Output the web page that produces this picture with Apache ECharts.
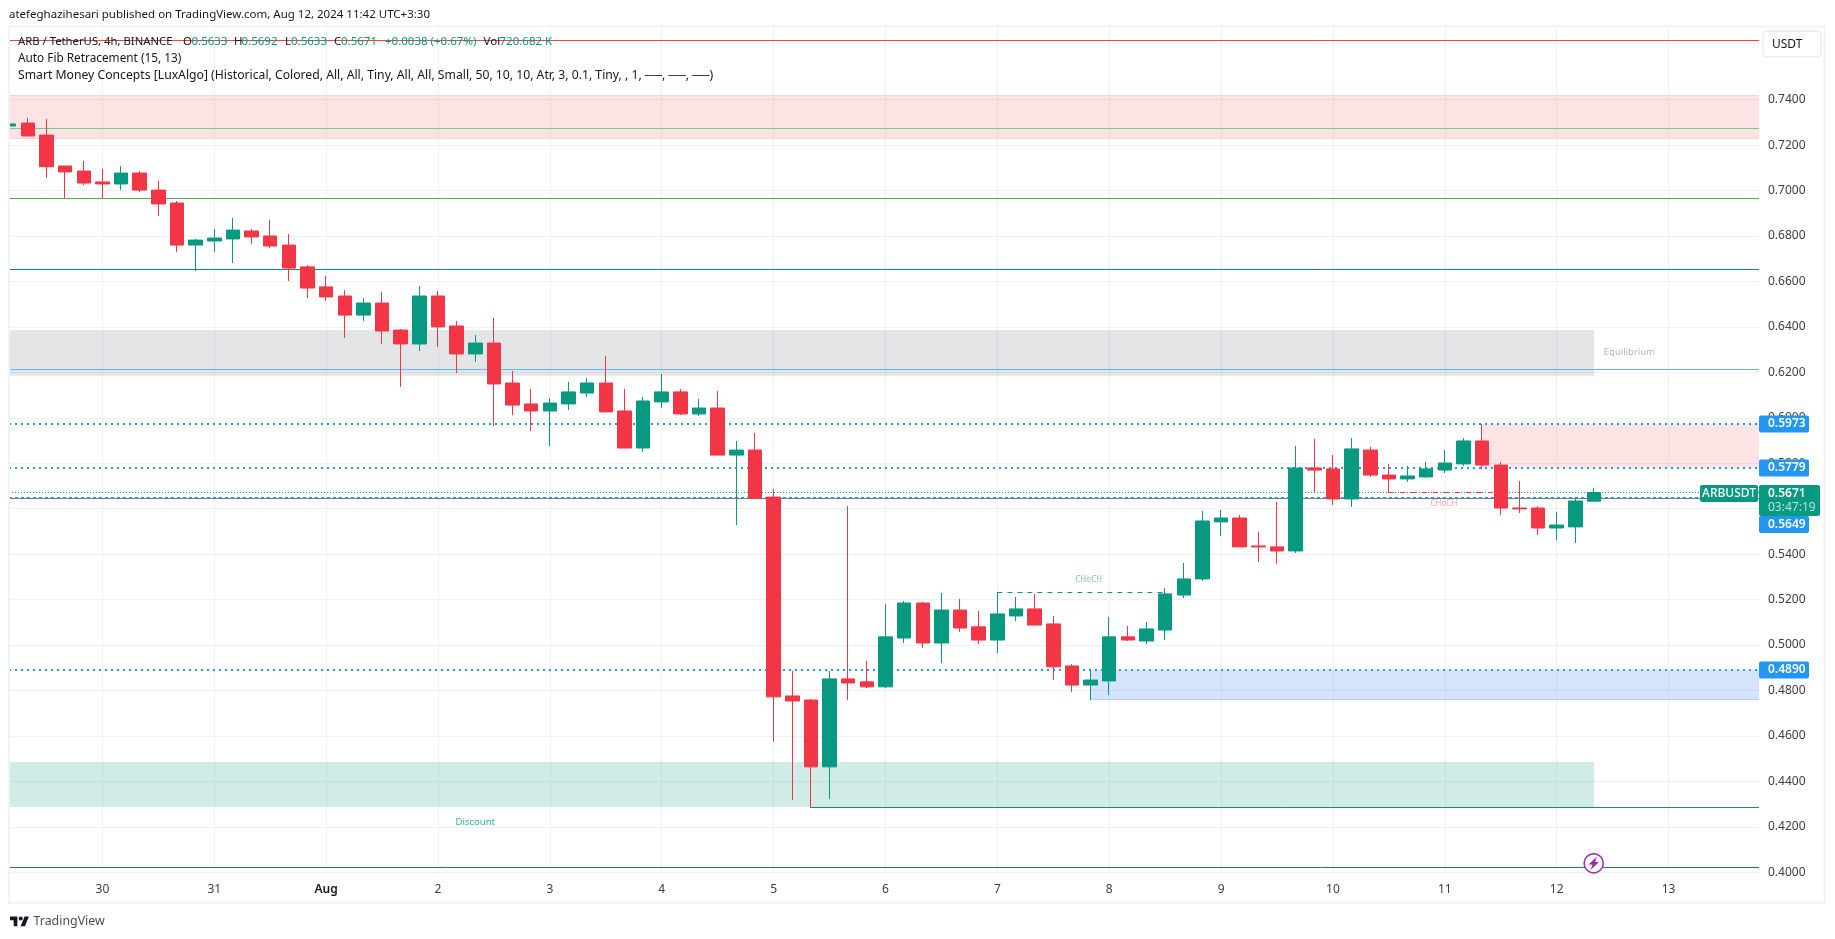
<!DOCTYPE html>
<html><head><meta charset="utf-8">
<style>html,body{margin:0;padding:0;background:#fff;overflow:hidden}#c{width:1835px;height:939px}</style>
<script src="https://cdn.jsdelivr.net/npm/echarts@6/dist/echarts.min.js"></script>
</head><body><div id="c"></div>
<script>
// Each candle: [open, close, low, high], one per 4h bar
const candles = [
[0.7284,0.7293,0.7284,0.7293],[0.7297,0.7240,0.7240,0.7319],[0.7244,0.7105,0.7056,0.7315],[0.7108,0.7082,0.6967,0.7108],
[0.7086,0.7033,0.7024,0.7130],[0.7038,0.7029,0.6963,0.7095],[0.7029,0.7077,0.7002,0.7108],[0.7077,0.7002,0.6994,0.7086],
[0.7002,0.6941,0.6888,0.7042],[0.6945,0.6760,0.6730,0.6954],[0.6760,0.6782,0.6646,0.6787],[0.6778,0.6791,0.6730,0.6831],
[0.6787,0.6826,0.6681,0.6879],[0.6822,0.6796,0.6765,0.6831],[0.6800,0.6756,0.6747,0.6870],[0.6760,0.6659,0.6602,0.6809],
[0.6664,0.6571,0.6527,0.6672],[0.6576,0.6532,0.6514,0.6624],[0.6536,0.6452,0.6351,0.6562],[0.6452,0.6505,0.6426,0.6527],
[0.6505,0.6382,0.6325,0.6554],[0.6386,0.6325,0.6136,0.6391],[0.6325,0.6536,0.6294,0.6580],[0.6536,0.6400,0.6312,0.6558],
[0.6404,0.6281,0.6197,0.6426],[0.6281,0.6329,0.6246,0.6364],[0.6329,0.6149,0.5964,0.6439],[0.6153,0.6056,0.6012,0.6206],
[0.6061,0.6030,0.5942,0.6127],[0.6030,0.6065,0.5876,0.6087],[0.6061,0.6114,0.6034,0.6158],[0.6109,0.6153,0.6092,0.6175],
[0.6153,0.6026,0.6026,0.6272],[0.6030,0.5867,0.5867,0.6127],[0.5867,0.6074,0.5850,0.6092],[0.6070,0.6114,0.6043,0.6193],
[0.6114,0.6017,0.6012,0.6127],[0.6017,0.6043,0.6008,0.6083],[0.6043,0.5836,0.5836,0.6118],[0.5836,0.5858,0.5528,0.5898],
[0.5858,0.5647,0.5643,0.5933],[0.5651,0.4772,0.4574,0.5687],[0.4776,0.4754,0.4318,0.4886],[0.4758,0.4464,0.4283,0.4763],
[0.4464,0.4851,0.4323,0.4886],[0.4851,0.4833,0.4758,0.5612],[0.4838,0.4816,0.4811,0.4930],[0.4816,0.5036,0.4811,0.5181],
[0.5031,0.5185,0.5009,0.5194],[0.5185,0.5009,0.4987,0.5190],[0.5009,0.5154,0.4921,0.5229],[0.5154,0.5075,0.5058,0.5203],
[0.5080,0.5022,0.5005,0.5150],[0.5022,0.5137,0.4965,0.5234],[0.5128,0.5159,0.5106,0.5212],[0.5159,0.5088,0.5088,0.5225],
[0.5093,0.4904,0.4846,0.5128],[0.4908,0.4824,0.4794,0.4917],[0.4824,0.4846,0.4758,0.4895],[0.4842,0.5036,0.4780,0.5124],
[0.5036,0.5022,0.5018,0.5084],[0.5018,0.5071,0.5005,0.5102],[0.5066,0.5225,0.5022,0.5251],[0.5220,0.5291,0.5207,0.5361],
[0.5291,0.5546,0.5282,0.5590],[0.5542,0.5559,0.5480,0.5594],[0.5559,0.5432,0.5432,0.5572],[0.5436,0.5432,0.5366,0.5498],
[0.5432,0.5414,0.5357,0.5630],[0.5414,0.5779,0.5405,0.5876],[0.5779,0.5770,0.5674,0.5907],[0.5775,0.5643,0.5616,0.5836],
[0.5643,0.5863,0.5608,0.5911],[0.5858,0.5748,0.5740,0.5872],[0.5748,0.5731,0.5669,0.5797],[0.5731,0.5744,0.5718,0.5788],
[0.5740,0.5775,0.5735,0.5806],[0.5770,0.5801,0.5757,0.5858],[0.5797,0.5898,0.5788,0.5911],[0.5898,0.5792,0.5775,0.5973],
[0.5792,0.5603,0.5572,0.5806],[0.5603,0.5599,0.5581,0.5722],[0.5603,0.5515,0.5484,0.5612],[0.5515,0.5528,0.5462,0.5586],
[0.5520,0.5634,0.5449,0.5647],[0.5633,0.5671,0.5633,0.5692]
];
const dayTicks = [5,11,17,23,29,35,41,47,53,59,65,71,77,83,89];
const dayLabels = ['30','31','Aug','2','3','4','5','6','7','8','9','10','11','12','13'];
const priceTicks = [0.40,0.42,0.44,0.46,0.48,0.50,0.52,0.54,0.56,0.58,0.60,0.62,0.64,0.66,0.68,0.70,0.72,0.74];
const lastBar = 85, xLeft = -0.0094, xRight = 93.85, yLow = 0.39881, yHigh = 0.77197;

// zones: [fromBar, toBar, lowPrice, highPrice, fill]
const zones = [
 [xLeft,xRight,0.72298,0.74203,'rgba(232,47,47,0.13)'],
 [xLeft,lastBar,0.61852,0.63863,'rgba(120,123,134,0.2)'],
 [xLeft,lastBar,0.42875,0.44855,'rgba(8,153,129,0.19)'],
 [58,xRight,0.47614,0.4890,'rgba(45,115,245,0.2)'],
 [79,xRight,0.57778,0.5973,'rgba(232,47,47,0.13)']
];
// levels: [fromBar, toBar, price, colour, width, dash]
const levels = [
 [xLeft,xRight,0.7661,'#F44336',1,null],
 [xLeft,xRight,0.74203,'#F9D2D2',1,null],
 [xLeft,xRight,0.72298,'#F9D2D2',1,null],
 [xLeft,xRight,0.7274,'#7CC98A',1,null],
 [xLeft,xRight,0.6966,'#4CAF50',1,null],
 [xLeft,xRight,0.6653,'#158C7A',1,null],
 [xLeft,xRight,0.6213,'#64B5F6',1,null],
 [xLeft,xRight,0.5646,'#787B86',1,null],
 [xLeft,xRight,0.5973,'#2196F3',2,[2,4]],
 [xLeft,xRight,0.5779,'#2196F3',2,[2,4]],
 [xLeft,xRight,0.5649,'#2196F3',1,[3,3]],
 [xLeft,xRight,0.4890,'#2196F3',2,[2,4]],
 [xLeft,xRight,0.5671,'#089981',1,[1,2]],
 [58,xRight,0.47614,'#B5CBF8',1,null],
 [43,xRight,0.4286,'#158C7A',1,null],
 [xLeft,xRight,0.4024,'#2F5BE7',1,null],
 [53,62,0.5232,'#089981',1,[5,5]],
 [74,80,0.5672,'#F23645',1,[5,6]]
];
// notes: [bar, price, text, colour, size]
const notes = [
 [25,0.42185,'Discount','#089981',9.5],
 [86.9,0.62895,'Equilibrium','#A0A3AD',9.5],
 [57.9,0.5289,'CHoCH','rgba(8,153,129,0.7)',8],
 [76.95,0.5624,'CHoCH','rgba(242,54,69,0.6)',8]
];
const priceTags = [['0.5973',0.5973,0],['0.5779',0.5779,0],['0.4890',0.4890,0],['0.5649',0.5649,27]];

const FONT = 'Noto Sans';
const chart = echarts.init(document.getElementById('c'), null, {renderer:'canvas'});
chart.setOption({
 animation:false, backgroundColor:'#fff',
 grid:{left:9,top:27,width:1750,height:848},
 xAxis:{type:'value',min:xLeft,max:xRight,
  axisLine:{show:false},
  axisTick:{show:false,customValues:dayTicks},
  splitLine:{show:true,lineStyle:{color:'#F0F1F4',width:1}},
  axisLabel:{customValues:dayTicks,margin:9,hideOverlap:false,fontFamily:FONT,fontSize:12,color:'#3A3E4A',
   formatter:v=>{const s=dayLabels[dayTicks.indexOf(v)];return s==='Aug'?'{b|Aug}':s;},
   rich:{b:{fontFamily:FONT,fontSize:12,fontWeight:600,color:'#131722'}}}},
 yAxis:{type:'value',position:'right',min:yLow,max:yHigh,scale:true,
  axisLine:{show:false},
  axisTick:{show:false,customValues:priceTicks},
  splitLine:{show:true,lineStyle:{color:'#F0F1F4',width:1}},
  axisLabel:{customValues:priceTicks,margin:9,fontFamily:FONT,fontSize:12,color:'#3A3E4A',formatter:v=>v.toFixed(4)}},
 series:[
  {type:'line',name:'overlays',data:[],z:1,silent:true,symbol:'none',
   markArea:{silent:true,z:1,itemStyle:{borderWidth:0},
    data:zones.map(z=>[{coord:[z[0],z[3]],itemStyle:{color:z[4]}},{coord:[z[1],z[2]]}])},
   markLine:{silent:true,z:2,symbol:'none',label:{show:false},animation:false,
    data:levels.map(l=>[{coord:[l[0],l[2]],lineStyle:{color:l[3],width:l[4],type:l[5]||'solid',cap:'butt',opacity:1}},{coord:[l[1],l[2]]}])}},
  {type:'candlestick',name:'ARBUSDT',z:3,barWidth:14,clip:true,
   itemStyle:{color:'#089981',color0:'#F23645',borderColor:'#089981',borderColor0:'#F23645',borderWidth:1},
   data:candles.map((c,i)=>[i,c[0],c[1],c[2],c[3]])},
  {type:'scatter',name:'notes',z:4,symbolSize:1,silent:true,itemStyle:{color:'rgba(0,0,0,0)'},
   data:notes.map(n=>({value:[n[0],n[1]],label:{show:true,position:'inside',formatter:n[2],color:n[3],fontSize:n[4],fontFamily:FONT}}))}
 ]
});

function txt(x,y,s,o){return {type:'text',z:60,silent:true,style:Object.assign({x:x,y:y,text:s,fontFamily:FONT,fontSize:12,fill:'#131722',textVerticalAlign:'middle'},o||{})};}
function box(x,y,w,h,fill,r,stroke){return {type:'rect',z:55,silent:true,shape:{x:x,y:y,width:w,height:h,r:r||0},style:{fill:fill,stroke:stroke||null,lineWidth:stroke?1:0}};}
function poly(pts,fill,z){return {type:'polygon',z:z||60,silent:true,shape:{points:pts},style:{fill:fill}};}
const UP='#089981';
const g=[
 box(0,0,1835,26,'#fff'),box(0,0,9,939,'#fff'),
 box(1760,877,64,25,'#fff'),
 {type:'rect',z:56,silent:true,shape:{x:9,y:26.5,width:1815.5,height:876.5},style:{fill:null,stroke:'#F0F3FA',lineWidth:2}},
 txt(9,15,'atefeghazihesari published on TradingView.com, Aug 12, 2024 11:42 UTC+3:30',{fontSize:11.5}),
 txt(18,42,'ARB / TetherUS, 4h, BINANCE',{fontSize:11.3}),
 txt(183,42,'O',{fontSize:11.5}),txt(191.5,42,'0.5633',{fill:UP,fontSize:11.5}),
 txt(234,42,'H',{fontSize:11.5}),txt(241.5,42,'0.5692',{fill:UP,fontSize:11.5}),
 txt(285,42,'L',{fontSize:11.5}),txt(291,42,'0.5633',{fill:UP,fontSize:11.5}),
 txt(334,42,'C',{fontSize:11.5}),txt(341,42,'0.5671',{fill:UP,fontSize:11.5}),
 txt(385,42,'+0.0038 (+0.67%)',{fill:UP,fontSize:11.5}),
 txt(483.5,42,'Vol',{fontSize:11.5}),txt(499.5,42,'720.682 K',{fill:UP,fontSize:11.5}),
 txt(18,59,'Auto Fib Retracement (15, 13)',{fontSize:11.8}),
 txt(18,76,'Smart Money Concepts [LuxAlgo] (Historical, Colored, All, All, Tiny, All, All, Small, 50, 10, 10, Atr, 3, 0.1, Tiny, , 1, \u2500\u2500, \u2500\u2500, \u2500\u2500)',{fontSize:12.2}),
 box(1763,31,58,26,'#fff',4,'#E0E3EB'),
 txt(1772,44.5,'USDT'),
 txt(33.5,921,'TradingView',{fontSize:12.4,fill:'#4A4E5A'}),
 poly([[10,916.6],[17.4,916.6],[17.4,926.2],[13.7,926.2],[13.7,920.3],[10,920.3]],'#131722'),
 poly([[24.6,916.6],[28.9,916.6],[24.9,926.2],[20.6,926.2]],'#131722'),
 {type:'circle',z:60,silent:true,shape:{cx:20.7,cy:918.6,r:2},style:{fill:'#131722'}},
 {type:'circle',z:60,silent:true,shape:{cx:1593.7,cy:863.3,r:9.6},style:{fill:'#fff',stroke:'#9C27B0',lineWidth:1.5}},
 poly([[1597,856.5],[1588.5,864.5],[1592.5,864.5],[1590.5,870],[1599,862],[1595,862]],'#9C27B0',61),
 box(1700,485,58,17,UP,2),
 txt(1729,493.3,'ARBUSDT',{fill:'#fff',textAlign:'center',fontWeight:500}),
 box(1759,485,61,31,UP,2),
 txt(1768,493.5,'0.5671',{fill:'#fff',fontWeight:600}),
 txt(1768,508,'03:47:19',{fill:'rgba(255,255,255,0.7)'})
];
priceTags.forEach(t=>{
 const y=chart.convertToPixel({yAxisIndex:0},t[1])+t[2];
 g.push(box(1759,y-8.5,50,17,'#2196F3',2));
 g.push(txt(1768,y,t[0],{fill:'#fff',fontWeight:600}));
});
chart.setOption({graphic:{elements:g}});
</script></body></html>
